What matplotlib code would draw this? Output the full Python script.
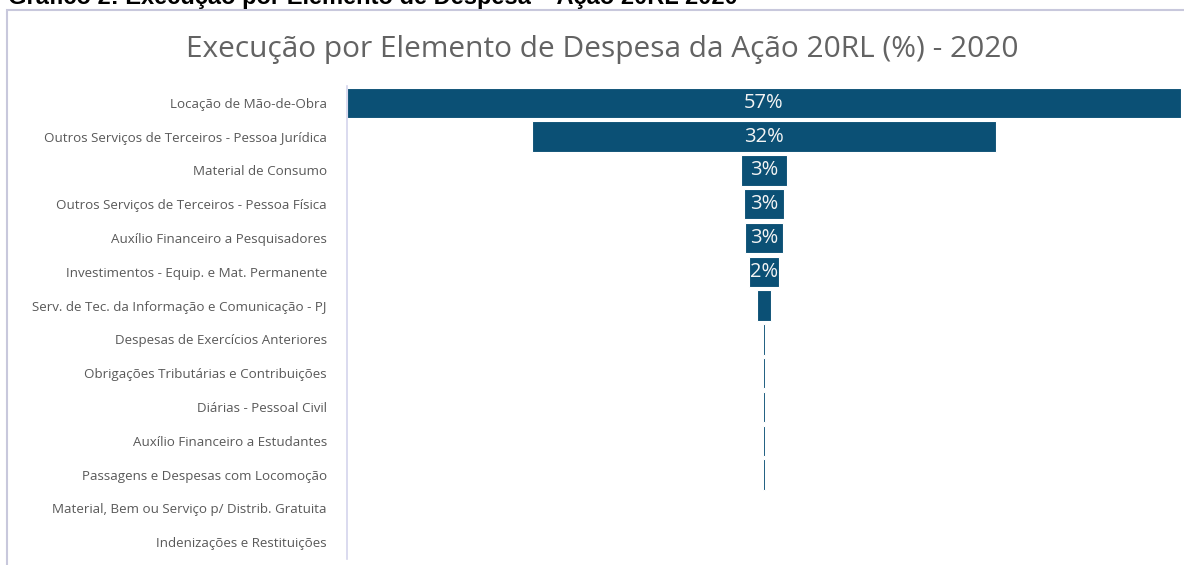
import matplotlib.pyplot as plt
from matplotlib.patches import Rectangle

# Data (share of execution, %)
categories = [
    'Locação de Mão-de-Obra',
    'Outros Serviços de Terceiros - Pessoa Jurídica',
    'Material de Consumo',
    'Outros Serviços de Terceiros - Pessoa Física',
    'Auxílio Financeiro a Pesquisadores',
    'Investimentos - Equip. e Mat. Permanente',
    'Serv. de Tec. da Informação e Comunicação - PJ',
    'Despesas de Exercícios Anteriores',
    'Obrigações Tributárias e Contribuições',
    'Diárias - Pessoal Civil',
    'Auxílio Financeiro a Estudantes',
    'Passagens e Despesas com Locomoção',
    'Material, Bem ou Serviço p/ Distrib. Gratuita',
    'Indenizações e Restituições',
]
values = [57.0, 31.7, 3.1, 2.8, 2.6, 2.0, 0.9, 0.15, 0.13, 0.12, 0.12, 0.12, 0.0, 0.0]
labels = ['57%', '32%', '3%', '3%', '3%', '2%', '', '', '', '', '', '', '', '']

font = 'Open Sans'
bar_color = '#0b5075'
W, H = 1184, 565

fig = plt.figure(figsize=(W / 100, H / 100), dpi=100)

# outer chart frame (only top/left visible in the crop)
fig.patches.append(Rectangle((7 / W, -0.2), 1.2, 1.2 - 10 / H, transform=fig.transFigure,
                             fill=False, edgecolor='#c8c8dc', linewidth=1.5))

# document caption, cut off at the top like in the source
fig.text(8 / W, 1 - 4 / H, 'Gráfico 2: Execução por Elemento de Despesa – Ação 20RL 2020',
         fontsize=17, fontweight='bold', family='Liberation Sans', va='baseline', ha='left')

fig.text(602 / W, 1 - 50 / H, 'Execução por Elemento de Despesa da Ação 20RL (%) - 2020',
         fontsize=21.5, color='#636363', family=font, ha='center', va='center')

ax = fig.add_axes([347 / W, 1 - 559 / H, (1181 - 347) / W, (559 - 86) / H])

y = list(range(len(categories)))
lefts = [-v / 2 for v in values]
ax.barh(y, values, left=lefts, height=0.9, color=bar_color,
        edgecolor='white', linewidth=0.8)

for i, (v, lab) in enumerate(zip(values, labels)):
    if lab:
        ax.text(0, i, lab, ha='center', va='center', color='#f4f4f4',
                fontsize=14.5, family=font)

ax.set_xlim(-values[0] / 2, values[0] / 2)
ax.set_ylim(len(categories) - 0.5, -0.5)
ax.set_yticks(y)
ax.set_yticklabels(categories, fontsize=9.6, color='#595959', family=font)
ax.tick_params(axis='y', length=0, pad=14.4)
ax.set_xticks([])
for s in ['top', 'right', 'bottom']:
    ax.spines[s].set_visible(False)
ax.spines['left'].set_color('#d4d4ec')
ax.spines['left'].set_linewidth(1.2)

fig.savefig('out.png', dpi=100)
